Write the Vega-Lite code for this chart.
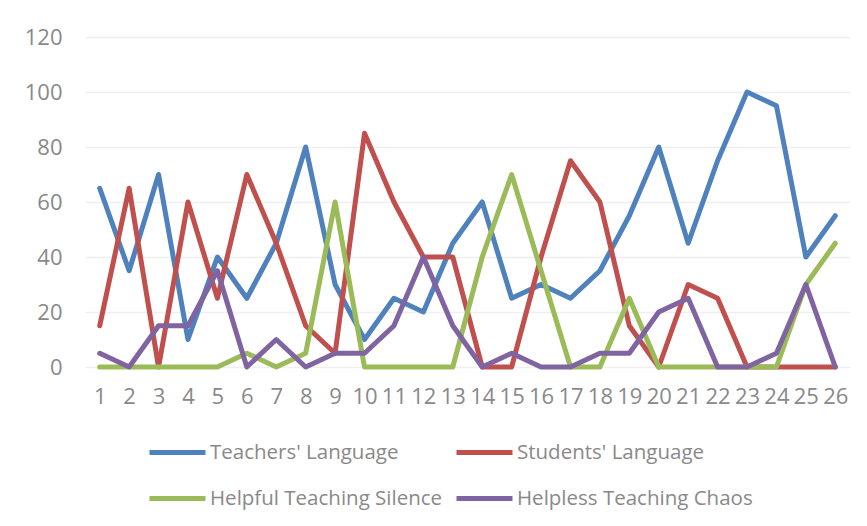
{
  "$schema": "https://vega.github.io/schema/vega-lite/v6.json",
  "width": 765,
  "height": 330,
  "padding": {"left": 85, "top": 37, "right": 17, "bottom": 159},
  "autosize": {"type": "none"},
  "background": "white",
  "config": {"view": {"stroke": null}, "font": "Open Sans"},
  "data": {"values": [
    {"x":1,"s":"Teachers' Language","v":65},{"x":2,"s":"Teachers' Language","v":35},{"x":3,"s":"Teachers' Language","v":70},{"x":4,"s":"Teachers' Language","v":10},{"x":5,"s":"Teachers' Language","v":40},{"x":6,"s":"Teachers' Language","v":25},{"x":7,"s":"Teachers' Language","v":45},{"x":8,"s":"Teachers' Language","v":80},{"x":9,"s":"Teachers' Language","v":30},{"x":10,"s":"Teachers' Language","v":10},{"x":11,"s":"Teachers' Language","v":25},{"x":12,"s":"Teachers' Language","v":20},{"x":13,"s":"Teachers' Language","v":45},{"x":14,"s":"Teachers' Language","v":60},{"x":15,"s":"Teachers' Language","v":25},{"x":16,"s":"Teachers' Language","v":30},{"x":17,"s":"Teachers' Language","v":25},{"x":18,"s":"Teachers' Language","v":35},{"x":19,"s":"Teachers' Language","v":55},{"x":20,"s":"Teachers' Language","v":80},{"x":21,"s":"Teachers' Language","v":45},{"x":22,"s":"Teachers' Language","v":75},{"x":23,"s":"Teachers' Language","v":100},{"x":24,"s":"Teachers' Language","v":95},{"x":25,"s":"Teachers' Language","v":40},{"x":26,"s":"Teachers' Language","v":55},
    {"x":1,"s":"Students' Language","v":15},{"x":2,"s":"Students' Language","v":65},{"x":3,"s":"Students' Language","v":0},{"x":4,"s":"Students' Language","v":60},{"x":5,"s":"Students' Language","v":25},{"x":6,"s":"Students' Language","v":70},{"x":7,"s":"Students' Language","v":45},{"x":8,"s":"Students' Language","v":15},{"x":9,"s":"Students' Language","v":5},{"x":10,"s":"Students' Language","v":85},{"x":11,"s":"Students' Language","v":60},{"x":12,"s":"Students' Language","v":40},{"x":13,"s":"Students' Language","v":40},{"x":14,"s":"Students' Language","v":0},{"x":15,"s":"Students' Language","v":0},{"x":16,"s":"Students' Language","v":40},{"x":17,"s":"Students' Language","v":75},{"x":18,"s":"Students' Language","v":60},{"x":19,"s":"Students' Language","v":15},{"x":20,"s":"Students' Language","v":0},{"x":21,"s":"Students' Language","v":30},{"x":22,"s":"Students' Language","v":25},{"x":23,"s":"Students' Language","v":0},{"x":24,"s":"Students' Language","v":0},{"x":25,"s":"Students' Language","v":0},{"x":26,"s":"Students' Language","v":0},
    {"x":1,"s":"Helpful Teaching Silence","v":0},{"x":2,"s":"Helpful Teaching Silence","v":0},{"x":3,"s":"Helpful Teaching Silence","v":0},{"x":4,"s":"Helpful Teaching Silence","v":0},{"x":5,"s":"Helpful Teaching Silence","v":0},{"x":6,"s":"Helpful Teaching Silence","v":5},{"x":7,"s":"Helpful Teaching Silence","v":0},{"x":8,"s":"Helpful Teaching Silence","v":5},{"x":9,"s":"Helpful Teaching Silence","v":60},{"x":10,"s":"Helpful Teaching Silence","v":0},{"x":11,"s":"Helpful Teaching Silence","v":0},{"x":12,"s":"Helpful Teaching Silence","v":0},{"x":13,"s":"Helpful Teaching Silence","v":0},{"x":14,"s":"Helpful Teaching Silence","v":40},{"x":15,"s":"Helpful Teaching Silence","v":70},{"x":16,"s":"Helpful Teaching Silence","v":35},{"x":17,"s":"Helpful Teaching Silence","v":0},{"x":18,"s":"Helpful Teaching Silence","v":0},{"x":19,"s":"Helpful Teaching Silence","v":25},{"x":20,"s":"Helpful Teaching Silence","v":0},{"x":21,"s":"Helpful Teaching Silence","v":0},{"x":22,"s":"Helpful Teaching Silence","v":0},{"x":23,"s":"Helpful Teaching Silence","v":0},{"x":24,"s":"Helpful Teaching Silence","v":0},{"x":25,"s":"Helpful Teaching Silence","v":30},{"x":26,"s":"Helpful Teaching Silence","v":45},
    {"x":1,"s":"Helpless Teaching Chaos","v":5},{"x":2,"s":"Helpless Teaching Chaos","v":0},{"x":3,"s":"Helpless Teaching Chaos","v":15},{"x":4,"s":"Helpless Teaching Chaos","v":15},{"x":5,"s":"Helpless Teaching Chaos","v":35},{"x":6,"s":"Helpless Teaching Chaos","v":0},{"x":7,"s":"Helpless Teaching Chaos","v":10},{"x":8,"s":"Helpless Teaching Chaos","v":0},{"x":9,"s":"Helpless Teaching Chaos","v":5},{"x":10,"s":"Helpless Teaching Chaos","v":5},{"x":11,"s":"Helpless Teaching Chaos","v":15},{"x":12,"s":"Helpless Teaching Chaos","v":40},{"x":13,"s":"Helpless Teaching Chaos","v":15},{"x":14,"s":"Helpless Teaching Chaos","v":0},{"x":15,"s":"Helpless Teaching Chaos","v":5},{"x":16,"s":"Helpless Teaching Chaos","v":0},{"x":17,"s":"Helpless Teaching Chaos","v":0},{"x":18,"s":"Helpless Teaching Chaos","v":5},{"x":19,"s":"Helpless Teaching Chaos","v":5},{"x":20,"s":"Helpless Teaching Chaos","v":20},{"x":21,"s":"Helpless Teaching Chaos","v":25},{"x":22,"s":"Helpless Teaching Chaos","v":0},{"x":23,"s":"Helpless Teaching Chaos","v":0},{"x":24,"s":"Helpless Teaching Chaos","v":5},{"x":25,"s":"Helpless Teaching Chaos","v":30},{"x":26,"s":"Helpless Teaching Chaos","v":0}
  ]},
  "mark": {"type": "line", "strokeWidth": 5, "strokeJoin": "round", "strokeCap": "round"},
  "encoding": {
    "x": {"field": "x", "type": "ordinal", "scale": {"type": "point", "padding": 0.5},
      "axis": {"title": null, "labelAngle": 0, "domain": false, "ticks": false, "grid": false, "labelFontSize": 22, "labelColor": "#898989", "labelPadding": 19}},
    "y": {"field": "v", "type": "quantitative", "scale": {"domain": [0, 120]},
      "axis": {"title": null, "values": [0,20,40,60,80,100,120], "domain": false, "ticks": false, "gridColor": "#efefef", "gridWidth": 1.5, "labelFontSize": 22, "labelColor": "#898989", "labelPadding": 23}},
    "color": {"field": "s", "type": "nominal",
      "scale": {"domain": ["Teachers' Language", "Helpful Teaching Silence", "Students' Language", "Helpless Teaching Chaos"], "range": ["#4F81BD", "#9BBB59", "#C0504D", "#8064A2"]},
      "legend": {"title": null, "orient": "none", "legendX": 62, "legendY": 385, "columns": 2, "symbolType": "stroke", "symbolSize": 3136, "symbolStrokeWidth": 5, "labelFontSize": 20.5, "labelColor": "#898989", "labelOffset": 2, "columnPadding": 0, "rowPadding": 5, "gridAlign": "all", "labelLimit": 400}}
  }
}
